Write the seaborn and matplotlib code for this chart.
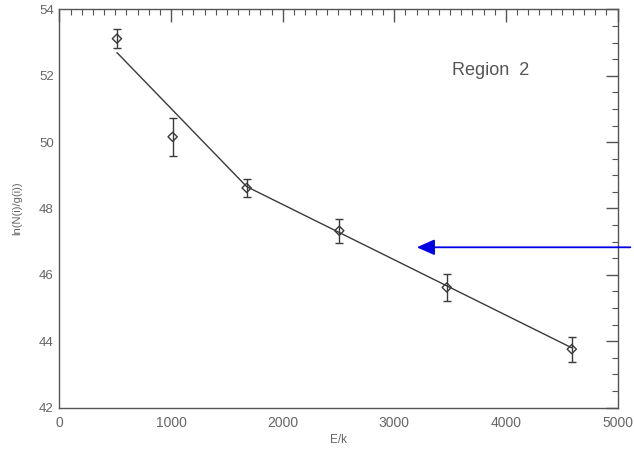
import matplotlib
matplotlib.use("Agg")
import matplotlib.pyplot as plt
import seaborn as sns
import pandas as pd
from matplotlib.ticker import MultipleLocator

# data
energy = [515, 1014, 1677, 2507, 3470, 4590]
ln_ratio = [53.12, 50.16, 48.62, 47.33, 45.62, 43.76]
err = [0.28, 0.58, 0.28, 0.36, 0.42, 0.38]
fit_x = [515, 1677, 4590]
fit_y = [52.70, 48.66, 43.80]

sns.set_theme(style="white")
plt.rcParams['font.family'] = ['Liberation Sans', 'DejaVu Sans']

fig = plt.figure(figsize=(6.34, 4.5), dpi=100)
ax = fig.add_axes([0.0938, 0.0944, 0.974 - 0.0938, 0.979 - 0.0944])

dark = "#3a3a3a"
fit_df = pd.DataFrame({"E": fit_x, "ln": fit_y})
sns.lineplot(data=fit_df, x="E", y="ln", ax=ax, color=dark, lw=1.0, sort=False)

pts = pd.DataFrame({"E": energy, "ln": ln_ratio, "err": err})
ax.errorbar(pts["E"], pts["ln"], yerr=pts["err"], fmt="none", ecolor=dark,
            elinewidth=1.0, capsize=3, capthick=1.0)
sns.scatterplot(data=pts, x="E", y="ln", ax=ax, marker="D", s=22,
                facecolor="none", edgecolor=dark, linewidth=1.0, zorder=3)

ax.set_xlim(0, 5000)
ax.set_ylim(42, 54)
ax.xaxis.set_major_locator(MultipleLocator(1000))
ax.xaxis.set_minor_locator(MultipleLocator(100))
ax.yaxis.set_major_locator(MultipleLocator(2))
ax.yaxis.set_minor_locator(MultipleLocator(0.5))
ax.tick_params(which="both", direction="in", top=True, right=True,
               colors="#555555", labelcolor="#666666")
ax.tick_params(axis="x", labelsize=10, pad=6)
ax.tick_params(axis="y", labelsize=9.5, pad=4)
ax.tick_params(which="major", length=9, width=1.0)
ax.tick_params(which="minor", length=4, width=0.8)
for s in ax.spines.values():
    s.set_color("#555555")
    s.set_linewidth(1.0)

ax.set_xlabel("E/k", fontsize=8.5, color="#666666", labelpad=3)
ax.set_ylabel("ln(N(i)/g(i))", fontsize=8, color="#666666", labelpad=12)

ax.text(3517, 52.17, "Region  2", fontsize=13, color="#555555", va="center", ha="left")

ax.annotate("", xy=(3177, 46.83), xytext=(5140, 46.83),
            xycoords="data", textcoords="data", annotation_clip=False,
            arrowprops=dict(arrowstyle="-|>,head_length=0.9,head_width=0.4",
                            color="#0000e6", lw=1.3))

fig.savefig("out.png", dpi=100)
